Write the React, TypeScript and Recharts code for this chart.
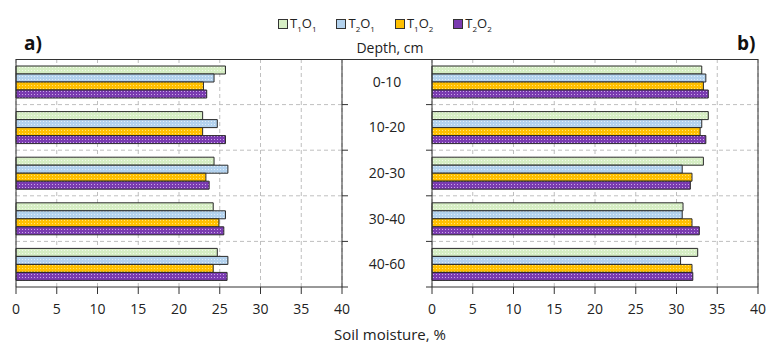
import React from "react";
import { BarChart, Bar, XAxis, YAxis, CartesianGrid, ReferenceLine } from "recharts";

// depth layers, top to bottom
const depths = ["0-10", "10-20", "20-30", "30-40", "40-60"];

// a) soil moisture, %
const aT1O1 = [25.7, 22.9, 24.3, 24.2, 24.7];
const aT2O1 = [24.3, 24.7, 26.0, 25.7, 26.0];
const aT1O2 = [23.0, 22.9, 23.3, 24.9, 24.2];
const aT2O2 = [23.4, 25.7, 23.7, 25.5, 25.9];

// b) soil moisture, %
const bT1O1 = [33.1, 33.9, 33.3, 30.8, 32.6];
const bT2O1 = [33.6, 33.1, 30.7, 30.7, 30.5];
const bT1O2 = [33.3, 32.9, 31.9, 31.9, 31.9];
const bT2O2 = [33.9, 33.6, 31.7, 32.8, 32.0];

const xTicks = [0, 5, 10, 15, 20, 25, 30, 35, 40];

const series = [
  { key: "T1O1", fill: "url(#pGreen)", swatch: "#d6eec4", t: "1", o: "1" },
  { key: "T2O1", fill: "url(#pBlue)", swatch: "#b3d2ee", t: "2", o: "1" },
  { key: "T1O2", fill: "url(#pYellow)", swatch: "#ffc000", t: "1", o: "2" },
  { key: "T2O2", fill: "url(#pPurple)", swatch: "#7a3bb0", t: "2", o: "2" },
];

const build = (v1: number[], v2: number[], v3: number[], v4: number[]) =>
  depths.map((d, i) => ({ depth: d, T1O1: v1[i], T2O1: v2[i], T1O2: v3[i], T2O2: v4[i] }));

const dataA = build(aT1O1, aT2O1, aT1O2, aT2O2);
const dataB = build(bT1O1, bT2O1, bT1O2, bT2O2);

const H = 347;
const TOP = 59;
const BOTTOM = 60;
const BAND = (H - TOP - BOTTOM) / depths.length;
const font = "'Open Sans', sans-serif";

const boundaries = ({ offset }: any) =>
  depths.slice(1).map((_, i) => offset.top + (offset.height * (i + 1)) / depths.length);

// ticks on the boundaries between layers, left panel (axis on right side)
const RightTick = (props: any) => {
  const { x, y } = props;
  return <line x1={x} x2={x + 6} y1={y + BAND / 2} y2={y + BAND / 2} stroke="#333" />;
};

// right panel: boundary ticks to the left + depth label centered in the gap
const LeftTick = (props: any) => {
  const { x, y, payload } = props;
  return (
    <g>
      <line x1={x - 6} x2={x} y1={y + BAND / 2} y2={y + BAND / 2} stroke="#333" />
      <text x={x - 45} y={y} dy="0.35em" textAnchor="middle" fontSize={14} fill="#222" fontFamily={font}>
        {payload.value}
      </text>
    </g>
  );
};

const Dots = ({ id, base, dot }: { id: string; base: string; dot: string }) => (
  <pattern id={id} width="3" height="3" patternUnits="userSpaceOnUse">
    <rect width="3" height="3" fill={base} />
    <rect x="1" y="1" width="1" height="1" fill={dot} />
  </pattern>
);

function Panel({ data, side }: { data: any[]; side: "a" | "b" }) {
  const left = side === "a";
  return (
    <BarChart
      width={left ? 350 : 427}
      height={H}
      data={data}
      layout="vertical"
      barSize={8}
      barGap={0}
      margin={{ top: TOP, bottom: 30, left: left ? 16 : 0, right: left ? 0 : 11 }}
    >
      <CartesianGrid
        stroke="#bfbfbf"
        strokeDasharray="4 3"
        horizontalCoordinatesGenerator={boundaries}
      />
      <XAxis
        type="number"
        domain={[0, 40]}
        ticks={xTicks}
        interval={0}
        height={30}
        tickSize={7}
        tickMargin={10}
        stroke="#333"
        tick={{ fill: "#222", fontSize: 14, fontFamily: font }}
      />
      <YAxis
        type="category"
        dataKey="depth"
        orientation={left ? "right" : "left"}
        width={left ? 8 : 90}
        tickSize={0}
        tickMargin={0}
        tickLine={false}
        stroke="#333"
        interval={0}
        tick={left ? <RightTick /> : <LeftTick />}
      />
      <ReferenceLine x={left ? 0 : 40} stroke="#333" />
      {series.map((s) => (
        <Bar key={s.key} dataKey={s.key} fill={s.fill} stroke="#2a2a2a" strokeWidth={1} isAnimationActive={false} />
      ))}
    </BarChart>
  );
}

export default function App() {
  return (
    <div style={{ position: "absolute", left: 0, top: 0, width: 769, height: H, background: "#fff", fontFamily: font }}>
      <svg width={0} height={0} style={{ position: "absolute" }}>
        <defs>
          <Dots id="pGreen" base="#d6eec4" dot="#f1f9ea" />
          <Dots id="pBlue" base="#b3d2ee" dot="#e0edf9" />
          <Dots id="pYellow" base="#ffc000" dot="#ffe27a" />
          <Dots id="pPurple" base="#7a3bb0" dot="#c9a6e8" />
        </defs>
      </svg>

      <div style={{ position: "absolute", left: 0, top: 0 }}>
        <Panel data={dataA} side="a" />
      </div>
      <div style={{ position: "absolute", left: 342, top: 0 }}>
        <Panel data={dataB} side="b" />
      </div>

      {/* top frame line running across both panels */}
      <div style={{ position: "absolute", left: 16, top: TOP, width: 742, height: 1, background: "#333" }} />

      {/* legend */}
      <div style={{ position: "absolute", top: 14, left: 278, display: "flex", gap: 20, fontSize: 13, color: "#222" }}>
        {series.map((s) => (
          <div key={s.key} style={{ display: "flex", alignItems: "center" }}>
            <span style={{ width: 8, height: 8, background: s.swatch, border: "1px solid #333", marginRight: 2 }} />
            <span>
              T<sub style={{ fontSize: 8 }}>{s.t}</sub>O<sub style={{ fontSize: 8 }}>{s.o}</sub>
            </span>
          </div>
        ))}
      </div>

      <div style={{ position: "absolute", left: 24, top: 30, fontSize: 19, fontWeight: "bold", color: "#111" }}>a)</div>
      <div style={{ position: "absolute", left: 737, top: 30, fontSize: 19, fontWeight: "bold", color: "#111" }}>b)</div>
      <div style={{ position: "absolute", left: 340, width: 100, textAlign: "center", top: 38, fontSize: 14, color: "#222" }}>
        Depth, cm
      </div>
      <div style={{ position: "absolute", left: 290, width: 200, textAlign: "center", top: 324, fontSize: 15, color: "#222" }}>
        Soil moisture, %
      </div>
    </div>
  );
}
